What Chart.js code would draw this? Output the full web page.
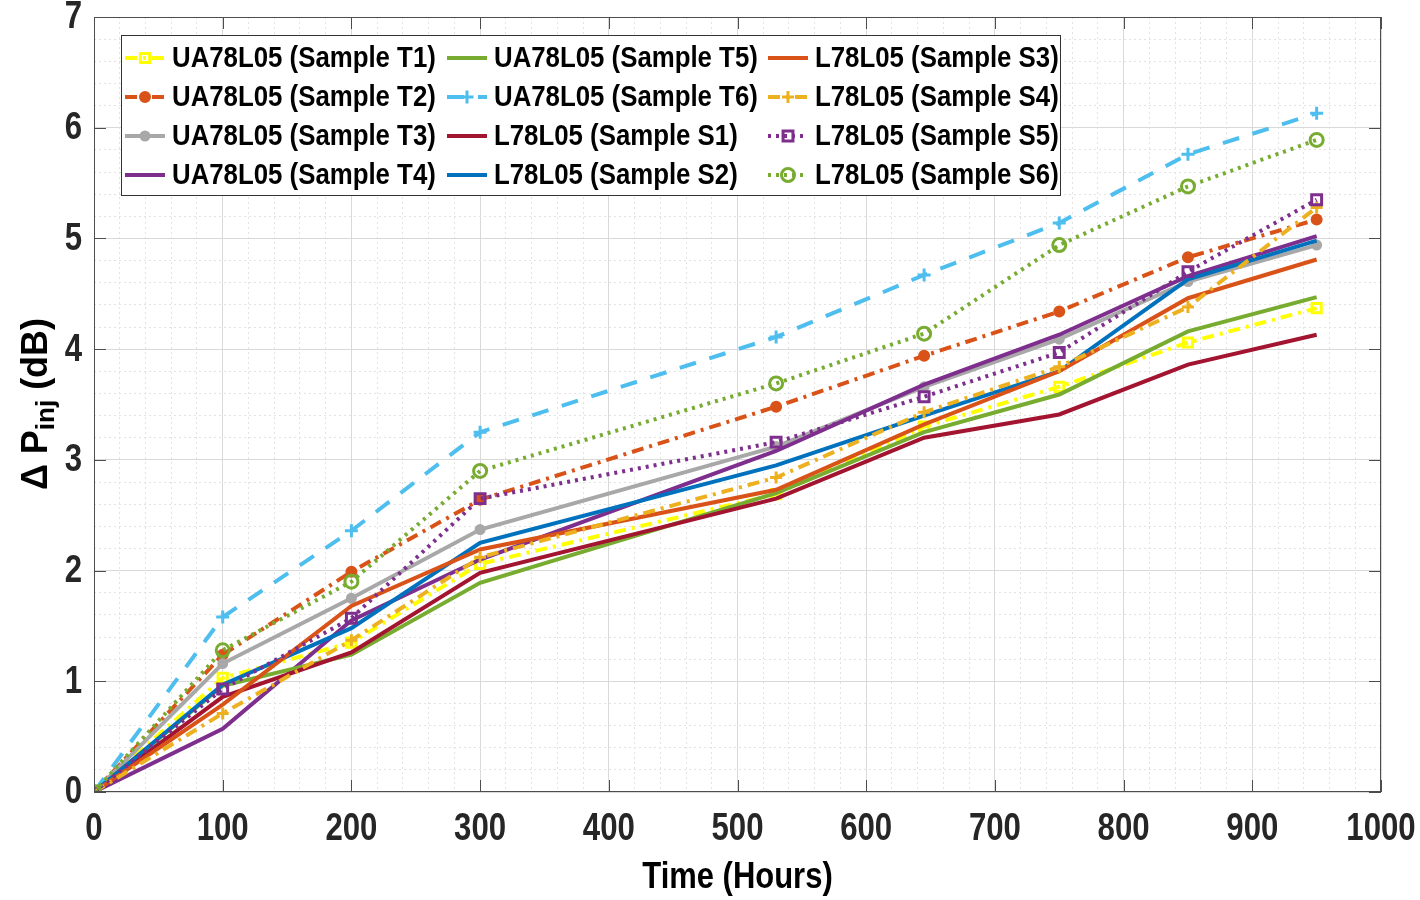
<!DOCTYPE html>
<html>
<head>
<meta charset="utf-8">
<style>
  html, body { margin: 0; padding: 0; background: #fff; }
  #wrap { width: 1420px; height: 900px; }
</style>
<script src="https://cdn.jsdelivr.net/npm/chart.js"></script>
</head>
<body>
<div id="wrap"><canvas id="chartId" width="1420" height="900"></canvas></div>
<script>
// time axis (hours) of each reading
const hours = [0, 100, 200, 300, 530, 645, 750, 850, 950];

// delta P_inj (dB)
const T1 = [0, 1.03, 1.35, 2.06, 2.69, 3.30, 3.66, 4.06, 4.37];
const T2 = [0, 1.24, 1.99, 2.64, 3.48, 3.94, 4.34, 4.83, 5.17];
const T3 = [0, 1.16, 1.75, 2.37, 3.12, 3.66, 4.09, 4.61, 4.94];
const T4 = [0, 0.57, 1.55, 2.10, 3.08, 3.68, 4.13, 4.66, 5.02];
const T5 = [0, 0.96, 1.24, 1.89, 2.70, 3.25, 3.59, 4.16, 4.47];
const T6 = [0, 1.58, 2.36, 3.25, 4.11, 4.67, 5.14, 5.76, 6.13];
const S1 = [0, 0.86, 1.26, 1.98, 2.65, 3.20, 3.41, 3.86, 4.13];
const S2 = [0, 0.97, 1.48, 2.25, 2.95, 3.40, 3.80, 4.63, 4.98];
const S3 = [0, 0.79, 1.68, 2.19, 2.73, 3.32, 3.80, 4.46, 4.81];
const S4 = [0, 0.71, 1.37, 2.12, 2.84, 3.43, 3.84, 4.38, 5.28];
const S5 = [0, 0.93, 1.57, 2.65, 3.16, 3.57, 3.97, 4.70, 5.35];
const S6 = [0, 1.28, 1.90, 2.90, 3.69, 4.14, 4.94, 5.47, 5.89];

const labels = [
  "UA78L05 (Sample T1)", "UA78L05 (Sample T2)", "UA78L05 (Sample T3)", "UA78L05 (Sample T4)",
  "UA78L05 (Sample T5)", "UA78L05 (Sample T6)", "L78L05 (Sample S1)", "L78L05 (Sample S2)",
  "L78L05 (Sample S3)", "L78L05 (Sample S4)", "L78L05 (Sample S5)", "L78L05 (Sample S6)"
];
const series = [T1, T2, T3, T4, T5, T6, S1, S2, S3, S4, S5, S6];

// tick labels
const xTicks = [0, 100, 200, 300, 400, 500, 600, 700, 800, 900, 1000];
const yTicks = [0, 1, 2, 3, 4, 5, 6, 7];
const xTitle = "Time (Hours)";

// line styles (MATLAB look)
const colors = ["#FFFF00", "#D95319", "#A8A8A8", "#7E2F8E", "#77AC30", "#4DBEEE",
                "#A2142F", "#0072BD", "#D95319", "#EDB120", "#7E2F8E", "#77AC30"];
const dashes = [[12, 6, 3, 6], [12, 6, 3, 6], [], [], [], [17, 14],
                [], [], [], [12, 6, 3, 6], [3, 5], [3, 5]];
const markers = ["rect", "circle", "circle", false, false, "cross",
                 false, false, false, "cross", "rect", "circle"];
const markerSize = [6.5, 4.5, 4, 0, 0, 6.5, 0, 0, 0, 6, 7, 6.5];
const markerFill = [false, true, true, false, false, false, false, false, false, false, false, false];

const textFont = "'Liberation Sans', Arial, sans-serif";

function isMajor(v, list) {
  return list.some(t => Math.abs(t - v) < 1e-6);
}

var datasets = [];
for (let i = 0; i < series.length; i++) {
  datasets.push({
    label: labels[i],
    data: hours.map((h, k) => ({ x: h, y: series[i][k] })),
    borderColor: colors[i],
    backgroundColor: colors[i],
    borderWidth: 4,
    borderDash: dashes[i],
    borderCapStyle: "butt",
    tension: 0,
    pointStyle: markers[i] || "circle",
    pointRadius: markerSize[i],
    pointBorderWidth: 3,
    pointBorderColor: colors[i],
    pointBackgroundColor: markerFill[i] ? colors[i] : "rgba(0,0,0,0)",
    order: series.length - i,
  });
}

// box round the plot + inward ticks like matlab
const framePlugin = {
  id: "frame",
  afterDatasetsDraw(chart) {
    const ctx = chart.ctx;
    const a = chart.chartArea;
    const xs = chart.scales.x, ys = chart.scales.y;
    ctx.save();
    ctx.strokeStyle = "#4d4d4d";
    ctx.lineWidth = 1;
    ctx.setLineDash([]);
    ctx.strokeRect(a.left + 0.5, a.top + 0.5, a.right - a.left - 1, a.bottom - a.top - 1);
    ctx.beginPath();
    xTicks.forEach(t => {
      const px = Math.round(xs.getPixelForValue(t)) + 0.5;
      ctx.moveTo(px, a.bottom); ctx.lineTo(px, a.bottom - 12);
      ctx.moveTo(px, a.top); ctx.lineTo(px, a.top + 12);
    });
    yTicks.forEach(t => {
      const py = Math.round(ys.getPixelForValue(t)) + 0.5;
      ctx.moveTo(a.left, py); ctx.lineTo(a.left + 12, py);
      ctx.moveTo(a.right, py); ctx.lineTo(a.right - 12, py);
    });
    ctx.stroke();
    ctx.restore();
  },
};

// narrow bold text (the figure was squeezed sideways)
function narrowText(ctx, text, x, y, size, sx, align, color) {
  ctx.save();
  ctx.translate(x, y);
  ctx.scale(sx, 1);
  ctx.font = "bold " + size + "px " + textFont;
  ctx.fillStyle = color;
  ctx.textAlign = align;
  ctx.textBaseline = "middle";
  ctx.fillText(text, 0, 0);
  ctx.restore();
}

const axisTextPlugin = {
  id: "axisText",
  afterDraw(chart) {
    const ctx = chart.ctx;
    const a = chart.chartArea;
    const xs = chart.scales.x, ys = chart.scales.y;
    xTicks.forEach(t => {
      narrowText(ctx, String(t), xs.getPixelForValue(t), a.bottom + 38, 38, 0.82, "center", "#262626");
    });
    yTicks.forEach(t => {
      narrowText(ctx, String(t), a.left - 12, ys.getPixelForValue(t) + 1, 38, 0.82, "right", "#262626");
    });
    narrowText(ctx, xTitle, (a.left + a.right) / 2, a.bottom + 86, 36, 0.86, "center", "#000");

    // y title with subscript
    const big = "bold 36px " + textFont;
    const small = "bold 26px " + textFont;
    const parts = [["\u0394 P", big, 0], ["inj", small, 10], [" (dB)", big, 0]];
    ctx.save();
    let total = 0;
    parts.forEach(p => { ctx.font = p[1]; total += ctx.measureText(p[0]).width; });
    ctx.translate(37, 404);
    ctx.rotate(-Math.PI / 2);
    ctx.fillStyle = "#000";
    ctx.textBaseline = "middle";
    ctx.textAlign = "left";
    let x = -total / 2;
    parts.forEach(p => {
      ctx.font = p[1];
      ctx.fillText(p[0], x, p[2]);
      x += ctx.measureText(p[0]).width;
    });
    ctx.restore();
  },
};

function drawMarker(ctx, style, x, y, r, color, fill) {
  ctx.save();
  ctx.setLineDash([]);
  ctx.strokeStyle = color;
  ctx.fillStyle = color;
  ctx.lineWidth = 3;
  ctx.beginPath();
  if (style === "rect") {
    const s = r * Math.SQRT1_2;
    ctx.rect(x - s, y - s, 2 * s, 2 * s);
  } else if (style === "circle") {
    ctx.arc(x, y, r, 0, Math.PI * 2);
  } else if (style === "cross") {
    ctx.moveTo(x - r, y); ctx.lineTo(x + r, y);
    ctx.moveTo(x, y - r); ctx.lineTo(x, y + r);
  }
  if (fill) ctx.fill();
  ctx.stroke();
  ctx.restore();
}

// legend in 3 columns, filled column by column
const legendPlugin = {
  id: "matlabLegend",
  afterDraw(chart) {
    const ctx = chart.ctx;
    const box = { x: 121, y: 35, w: 939, h: 160 };
    const colX = [125, 447, 768];
    const rowY = [58, 97, 136, 175];
    ctx.save();
    ctx.fillStyle = "#fff";
    ctx.fillRect(box.x, box.y, box.w, box.h);
    ctx.strokeStyle = "#333";
    ctx.lineWidth = 1;
    ctx.strokeRect(box.x + 0.5, box.y + 0.5, box.w, box.h);
    for (let i = 0; i < series.length; i++) {
      const c = Math.floor(i / 4), r = i % 4;
      const x0 = colX[c], y0 = rowY[r];
      ctx.save();
      ctx.strokeStyle = colors[i];
      ctx.lineWidth = 4;
      ctx.lineCap = "butt";
      ctx.setLineDash(dashes[i]);
      ctx.beginPath();
      ctx.moveTo(x0, y0);
      ctx.lineTo(x0 + 40, y0);
      ctx.stroke();
      ctx.restore();
      if (markers[i]) drawMarker(ctx, markers[i], x0 + 20, y0, markerSize[i], colors[i], markerFill[i]);
      narrowText(ctx, labels[i], x0 + 47, y0 + 1, 30, 0.86, "left", "#000");
    }
    ctx.restore();
  },
};

const chrt = document.getElementById("chartId").getContext("2d");
const chartId = new Chart(chrt, {
  type: "line",
  data: { datasets: datasets },
  options: {
    responsive: false,
    animation: false,
    devicePixelRatio: 1,
    layout: { padding: { left: 0, top: 17, right: 39, bottom: 0 } },
    plugins: { legend: { display: false }, tooltip: { enabled: false } },
    scales: {
      x: {
        type: "linear",
        min: 0,
        max: 1000,
        afterFit(scale) {
          scale.height = 108;
          scale.paddingLeft = 0;
          scale.paddingRight = 0;
        },
        ticks: { stepSize: 20, autoSkip: false, display: false },
        grid: {
          drawTicks: false,
          color: c => (c.tick && isMajor(c.tick.value, xTicks) ? "#d9d9d9" : "#e3e3e3"),
          lineWidth: 1,
        },
        border: { display: false, dash: c => (c.tick && !isMajor(c.tick.value, xTicks) ? [2, 3] : []) },
      },
      y: {
        type: "linear",
        min: 0,
        max: 7,
        afterFit(scale) {
          scale.width = 94;
          scale.paddingTop = 0;
          scale.paddingBottom = 0;
        },
        ticks: { stepSize: 0.2, autoSkip: false, display: false },
        grid: {
          drawTicks: false,
          color: c => (c.tick && isMajor(c.tick.value, yTicks) ? "#d9d9d9" : "#e3e3e3"),
          lineWidth: 1,
        },
        border: { display: false, dash: c => (c.tick && !isMajor(c.tick.value, yTicks) ? [2, 3] : []) },
      },
    },
  },
  plugins: [framePlugin, legendPlugin, axisTextPlugin],
});
</script>
</body>
</html>
